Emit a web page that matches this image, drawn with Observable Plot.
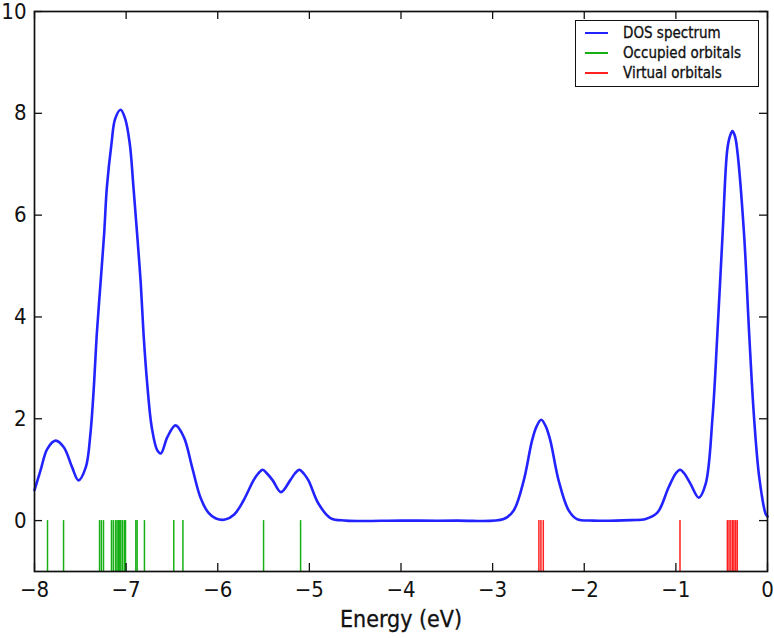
<!DOCTYPE html>
<html>
<head>
<meta charset="utf-8">
<script src="https://cdn.jsdelivr.net/npm/d3@7"></script>
<script src="https://cdn.jsdelivr.net/npm/@observablehq/plot@0.6"></script>
<style>
  html, body { margin: 0; padding: 0; background: #fff; }
  #wrap { position: relative; width: 774px; height: 638px; }
  #legend {
    position: absolute; left: 575px; top: 20px; width: 184px; height: 67px;
    border: 1.3px solid #111; background: #fff;
    font-family: "DejaVu Sans Condensed", "DejaVu Sans", sans-serif; font-size: 15px; color: #111;
    -webkit-text-stroke: 0.3px #111;
    box-sizing: border-box;
  }
  #legend .row { position: absolute; left: 0; height: 20px; display: flex; align-items: center; }
  #legend .sw { display: inline-block; width: 23px; height: 2.5px; margin-left: 9px; margin-right: 15px; }
</style>
</head>
<body>
<div id="wrap">
  <div id="chart"></div>
  <div id="legend"></div>
</div>
<script>
// ---- data ----
const dosEnergy = [-8.00,-7.935,-7.86,-7.77,-7.68,-7.59,-7.52,-7.44,-7.39,-7.35,-7.32,-7.28,-7.24,-7.21,-7.16,-7.12,-7.06,-7.01,-6.96,-6.92,-6.88,-6.84,-6.81,-6.77,-6.72,-6.66,-6.62,-6.55,-6.46,-6.37,-6.28,-6.19,-6.10,-6.02,-5.92,-5.82,-5.72,-5.61,-5.56,-5.51,-5.46,-5.40,-5.31,-5.21,-5.16,-5.11,-5.06,-5.01,-4.90,-4.77,-4.60,-4.00,-3.40,-2.88,-2.77,-2.66,-2.57,-2.52,-2.47,-2.42,-2.37,-2.28,-2.17,-2.08,-1.90,-1.49,-1.33,-1.20,-1.08,-1.00,-0.955,-0.91,-0.84,-0.75,-0.675,-0.60,-0.547,-0.49,-0.44,-0.41,-0.383,-0.355,-0.33,-0.256,-0.20,-0.147,-0.09,-0.02,0.00];
const dosValue  = [0.60,0.98,1.41,1.57,1.44,1.05,0.79,1.05,1.70,2.69,3.67,4.65,5.63,6.55,7.40,7.89,8.07,7.89,7.40,6.55,5.63,4.65,3.67,2.69,1.83,1.38,1.32,1.64,1.87,1.64,1.05,0.46,0.15,0.04,0.02,0.12,0.39,0.79,0.92,1.00,0.92,0.79,0.56,0.79,0.92,1.00,0.92,0.79,0.33,0.05,0.00,0.00,0.00,0.03,0.20,0.79,1.57,1.85,1.98,1.85,1.57,0.79,0.20,0.03,0.00,0.01,0.03,0.16,0.65,0.93,1.00,0.93,0.72,0.45,0.72,2.03,3.67,5.63,7.27,7.55,7.65,7.55,7.27,5.63,3.67,2.03,0.85,0.13,0.08];
const occupied = [-7.858,-7.683,-7.29,-7.27,-7.247,-7.16,-7.14,-7.116,-7.10,-7.086,-7.07,-7.058,-7.04,-7.02,-7.007,-6.894,-6.88,-6.80,-6.48,-6.38,-5.50,-5.096];
const virtual = [-2.495,-2.473,-2.447,-0.955,-0.438,-0.42,-0.40,-0.38,-0.366,-0.347,-0.33];
const xTicks = [-8,-7,-6,-5,-4,-3,-2,-1,0];
const yTicks = [0,2,4,6,8,10];
const legendLabels = ["DOS spectrum","Occupied orbitals","Virtual orbitals"];
const xLabel = "Energy (eV)";

const colBlue = "#2323ff", colGreen = "#16b016", colRed = "#ff2020";
const dos = dosEnergy.map((e, i) => ({e, d: dosValue[i]}));
const fmt = d => (d < 0 ? "\u2212" : "") + Math.abs(d);

const W = 774, H = 638, mL = 34, mR = 7, mT = 11, mB = 67;
const pw = W - mL - mR, ph = H - mT - mB, tk = 8;
const font = "DejaVu Sans Condensed, DejaVu Sans, sans-serif";

const chart = Plot.plot({
  width: W, height: H,
  marginLeft: mL, marginRight: mR, marginTop: mT, marginBottom: mB,
  x: {domain: [-8, 0]},
  y: {domain: [-1, 10]},
  style: {fontFamily: font, fontSize: "22px", color: "#111", background: "#fff", overflow: "visible"},
  marks: [
    Plot.ruleX(occupied, {x: d => d, y1: 0, y2: -1, stroke: colGreen, strokeWidth: 1.5}),
    Plot.ruleX(virtual, {x: d => d, y1: 0, y2: -1, stroke: colRed, strokeWidth: 1.5}),
    Plot.line(dos, {x: "e", y: "d", stroke: colBlue, strokeWidth: 2.6, curve: "catmull-rom"}),
    Plot.tickX(xTicks, {x: d => d, insetTop: ph - tk, stroke: "#111", strokeWidth: 1.3}),
    Plot.tickX(xTicks, {x: d => d, insetBottom: ph - tk, stroke: "#111", strokeWidth: 1.3}),
    Plot.tickY(yTicks, {y: d => d, insetRight: pw - tk, stroke: "#111", strokeWidth: 1.3}),
    Plot.tickY(yTicks, {y: d => d, insetLeft: pw - tk, stroke: "#111", strokeWidth: 1.3}),
    Plot.frame({stroke: "#111", strokeWidth: 1.7}),
    Plot.axisX(xTicks, {anchor: "bottom", tickSize: 0, tickPadding: 10, label: null, fontSize: 22, tickFormat: fmt, stroke: "#111", strokeWidth: 0.5}),
    Plot.axisY(yTicks, {anchor: "left", tickSize: 0, tickPadding: 8, label: null, fontSize: 22, tickFormat: fmt, stroke: "#111", strokeWidth: 0.5}),
    Plot.text([xLabel], {text: d => d, frameAnchor: "bottom", dy: 39, lineAnchor: "top", fontSize: 23, fill: "#111", stroke: "#111", strokeWidth: 0.3})
  ]
});
document.getElementById("chart").appendChild(chart);

const legend = document.getElementById("legend");
const cols = [colBlue, colGreen, colRed];
legendLabels.forEach((t, i) => {
  const row = document.createElement("div");
  row.className = "row";
  row.style.top = (2 + i * 20) + "px";
  const sw = document.createElement("span");
  sw.className = "sw";
  sw.style.background = cols[i];
  row.appendChild(sw);
  row.appendChild(document.createTextNode(t));
  legend.appendChild(row);
});
</script>
</body>
</html>
